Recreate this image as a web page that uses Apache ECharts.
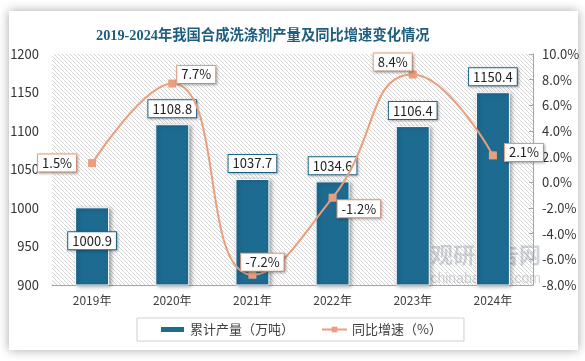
<!DOCTYPE html>
<html><head><meta charset="utf-8">
<script src="https://cdn.jsdelivr.net/npm/echarts@6/dist/echarts.min.js"></script>
<style>html,body{margin:0;padding:0;background:#fff}#c{width:585px;height:361px}</style>
</head><body><div id="c"></div>
<script>
var categories = ['2019年','2020年','2021年','2022年','2023年','2024年'];
var output = [1000.9, 1108.8, 1037.7, 1034.6, 1106.4, 1150.4];
var growth = [1.5, 7.7, -7.2, -1.2, 8.4, 2.1];
var titleText = '2019-2024年我国合成洗涤剂产量及同比增速变化情况';
var barName = '累计产量（万吨）';
var lineName = '同比增速（%）';

// label placement (styling only)
var barLabelPlace = [
  {position:'insideTop', distance: 25},
  {position:'top'},{position:'top'},{position:'top'},{position:'top'},{position:'top'}
];
var lineLabelPlace = [
  {position:'left', distance: 12, offset:[0,0]},
  {position:'right', distance: 1, offset:[0,-9]},
  {position:'top', distance: 0, offset:[10,0]},
  {position:'right', distance: 1, offset:[0,11]},
  {position:'top', distance: 0, offset:[-20,0]},
  {position:'right', distance: 8, offset:[0,-3]}
];

var pc = document.createElement('canvas');
pc.width = 4; pc.height = 4;
var g = pc.getContext('2d');
g.fillStyle = '#ffffff'; g.fillRect(0,0,4,4);
g.strokeStyle = '#d6d6d6'; g.lineWidth = 1;
g.beginPath(); g.moveTo(-1,-1); g.lineTo(5,5); g.stroke();
g.beginPath(); g.moveTo(-1,3); g.lineTo(1,5); g.stroke();
g.beginPath(); g.moveTo(3,-1); g.lineTo(5,1); g.stroke();

var FONT = '"Noto Sans CJK SC", "Liberation Sans", sans-serif';
var barColor = '#1e6b91';
var lineColor = '#e89f7c';

var chart = echarts.init(document.getElementById('c'), null, {renderer:'canvas'});
chart.setOption({
  animation: false,
  textStyle: {fontFamily: FONT},
  graphic: [{
    type: 'rect', z: -10, silent: true,
    shape: {x: 9, y: 11, width: 569, height: 339},
    style: {fill: '#fff', shadowBlur: 10, shadowColor: 'rgba(0,0,0,0.35)'}
  }, {
    type: 'text', right: 44, top: 244, z: 0, silent: true,
    style: {text: '观研报告网', fontSize: 22, fontWeight: 'bold', fill: 'rgba(120,130,140,0.35)', fontFamily: FONT}
  }, {
    type: 'text', right: 44, top: 272, z: 0, silent: true,
    style: {text: 'chinabaogao.com', fontSize: 14, fill: 'rgba(120,130,140,0.35)', fontFamily: '"Liberation Sans", sans-serif'}
  }],
  title: {
    text: titleText, left: 91, top: 24,
    textStyle: {fontSize: 14.3, fontWeight: 'bold', color: '#1f5d7e', fontFamily: '"Liberation Serif", "Noto Sans CJK SC", serif'}
  },
  legend: {
    left: 137, top: 318, width: 312, height: 25,
    padding: [5, 22], itemGap: 27,
    borderColor: '#d0d0d0', borderWidth: 1,
    itemWidth: 25, itemHeight: 7,
    textStyle: {fontSize: 13, color: '#404040'},
    data: [{name: barName, icon: 'rect'}, {name: lineName}]
  },
  grid: {
    left: 52, right: 52, top: 54, bottom: 76,
    show: true, borderWidth: 0,
    backgroundColor: {image: pc, repeat: 'repeat'}
  },
  xAxis: {
    type: 'category', data: categories,
    axisLine: {onZero: false, lineStyle: {color: '#a6a6a6'}},
    axisTick: {show: false},
    axisLabel: {fontSize: 12, color: '#404040', margin: 9}
  },
  yAxis: [{
    type: 'value', min: 900, max: 1200, interval: 50,
    axisLine: {show: false}, axisTick: {show: false},
    splitLine: {show: false},
    axisLabel: {fontSize: 13, color: '#333', margin: 13, formatter: function(v){return String(v);}}
  }, {
    type: 'value', min: -8, max: 10, interval: 2, position: 'right',
    axisLine: {show: true, onZero: false, lineStyle: {color: '#a6a6a6'}},
    axisTick: {show: true, inside: true, length: 4, lineStyle: {color: '#a6a6a6'}},
    splitLine: {show: false},
    axisLabel: {fontSize: 13, color: '#333', margin: 9, formatter: function(v){return v.toFixed(1)+'%';}}
  }],
  series: [{
    name: barName, type: 'bar', barWidth: 34,
    itemStyle: {color: barColor, borderColor: '#fff', borderWidth: 1,
      shadowBlur: 4, shadowColor: 'rgba(0,0,0,0.35)', shadowOffsetX: 2, shadowOffsetY: 1},
    label: {show: true, distance: 7, fontSize: 13, color: '#222',
      backgroundColor: '#fff', borderColor: barColor, borderWidth: 1, padding: [2, 4],
      shadowBlur: 3, shadowColor: 'rgba(0,0,0,0.3)', shadowOffsetX: 1, shadowOffsetY: 1},
    data: output.map(function(v, i){ return {value: v, label: barLabelPlace[i]}; }),
    z: 2
  }, {
    name: lineName, type: 'line', yAxisIndex: 1, smooth: 0.5,
    symbol: 'rect', symbolSize: 8,
    lineStyle: {color: lineColor, width: 2},
    itemStyle: {color: lineColor},
    label: {show: true, fontSize: 13, color: '#222',
      formatter: function(p){ return p.value.toFixed(1)+'%'; },
      backgroundColor: '#fff', borderColor: lineColor, borderWidth: 1, padding: [2, 4],
      shadowBlur: 3, shadowColor: 'rgba(0,0,0,0.3)', shadowOffsetX: 1, shadowOffsetY: 1},
    data: growth.map(function(v, i){ return {value: v, label: lineLabelPlace[i]}; }),
    z: 3
  }]
});
</script></body></html>
